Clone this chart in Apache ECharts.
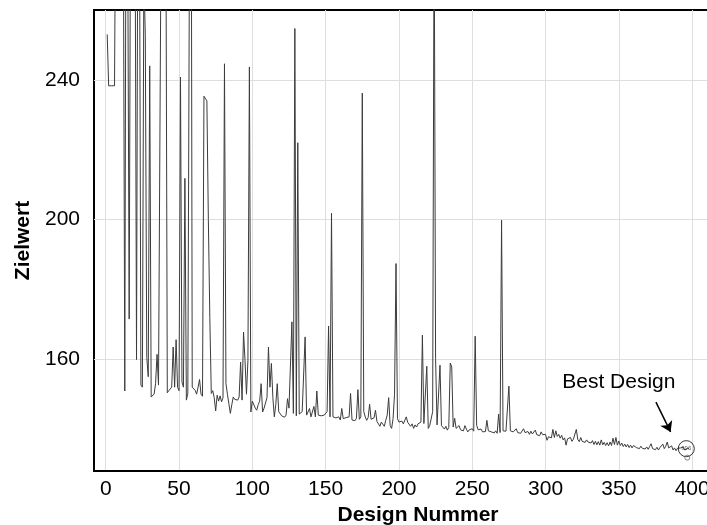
<!DOCTYPE html>
<html>
<head>
<meta charset="utf-8">
<script src="https://cdn.jsdelivr.net/npm/echarts@6/dist/echarts.min.js"></script>
<style>
html,body{margin:0;padding:0;background:#fff;}
#chart{width:707px;height:525px;}
</style>
</head>
<body>
<div id="chart"></div>
<script>
// Design numbers start at 1; values (Zielwert) per design
const designStart = 1;
const values001_050 = [253,238.3,238.3,238.3,238.3,238.3,310,320,300,340,310,290,150.9,330,280,171.5,300,350,320,290,159.9,310,290,152.6,152,270,252.8,160.5,155,244,149.2,149,150,153,161.4,152.6,152.6,300,330,310,290,150.4,151,150.6,152,163.5,152,165.6,152,151];
const values051_100 = [240.8,153.5,152,211.8,148.3,150.2,150.2,380,152,151.5,151.1,150,152,154.2,150,149.4,235.3,235.3,234,200,172,150.2,151,149,145.2,149.7,148,149.5,147.8,149,244.6,153,150,149.5,144.5,147,149.2,148.5,149,148.3,149.2,159.2,148.3,167.8,159.7,150,159.7,243.7,144.9,148];
const values101_150 = [148.3,146,145.4,147,148,153,144.9,146,146.3,149,163.5,152,158.8,149,143.5,147,153,145,144.5,143.8,144.2,143.4,144,148.7,146,145.6,170.7,144.5,254.7,143.8,222,144.3,144,145,144.5,166.4,144,143.5,145.9,143.5,144,146.5,143.5,150.9,144,144.3,143.8,144.2,144,143.6];
const values151_200 = [145,169.5,143.5,201.8,143.5,144,143.2,142.8,143.5,142.6,145.9,143,142.5,143.3,142.8,143.5,150.2,142.6,143,142.4,143.1,151.3,142.8,143.5,236.2,145,143.5,142.5,143.3,147.1,142.8,142.5,143.2,145.4,142.2,141.8,140.8,142,141.5,140.8,142.5,144,149,141,140.2,143,150,187.4,143,142];
const values201_250 = [141.8,142.3,141.5,142,143.5,141.9,141.7,140.8,141.5,140.2,141.2,140.6,141.5,141,142,166.9,141.6,142,158,140.2,141,141.5,145,290,160.2,141.2,141,158.3,141,140.6,140,140.8,139.7,140.5,158.9,157.8,140.6,143.1,140.2,140.6,141,139.8,140.3,139.5,141,140,139.2,139.8,139.5,140.1];
const values251_300 = [139.4,166.6,141.1,139.8,139.4,140,139.2,139.6,139.3,142.5,139.5,139.8,139.2,139.7,138.9,139.5,138.8,144.3,139,199.8,139.5,139,139.4,139,152.3,139.5,139.7,139.2,139.5,140.1,139,139.4,138.8,139.2,140.1,139,138.7,139.3,138.5,139.4,138.6,138.2,139.7,138.4,138.9,138.1,139.2,138.4,138,138.5];
const values301_350 = [136.8,137.8,138.3,137.5,139.9,137.6,139.5,137.9,138.5,137.4,138.2,136.9,137.5,135.4,137.2,136.8,137.6,136.5,137.1,136.6,139.9,137,136.4,137.6,136.5,137,136.2,136.9,136.3,136.8,136,136.7,135.6,136.5,135.5,136.4,135.4,136.9,135.5,136.2,135.3,136.1,135.2,136.3,135.3,137.4,135.6,137.6,135.4,136.6];
const values351_398 = [135.3,136,135,135.7,134.9,135.6,134.7,135.4,134.6,135.3,135.8,134.7,135.2,134.4,135.1,134.5,135,134.3,134.9,134.2,135,135.8,134.4,134.9,134.1,134.8,134,134.7,134.2,135.7,134.4,135.1,136.3,134.6,134.1,135.2,134,134.6,133.8,134.5,134,134.6,134.1,134.8,134,134.4,134.5,134.3];

const xTickLabels = [0,50,100,150,200,250,300,350,400];
const yTickLabels = [160,200,240];

const bestDesign = 396;
const bestLabel = 'Best Design';
const bestText = '396';

const values = [].concat(values001_050, values051_100, values101_150, values151_200,
                         values201_250, values251_300, values301_350, values351_398);
const seriesData = values.map((v, i) => [designStart + i, v]);
const bestValue = values[bestDesign - designStart];

const FONT = "'Liberation Sans', Arial, Helvetica, sans-serif";
const GRID = '#dedede';
const NONE = 'rgba(0,0,0,0)';

// x ticks every 2 from -8: gridlines only on multiples of 50 (index 4 of each 25)
const xLineColors = Array.from({length: 25}, (_, k) => k === 4 ? GRID : NONE);
// y ticks every 4 from 128: gridlines only on multiples of 40 (index 8 of each 10)
const yLineColors = Array.from({length: 10}, (_, k) => k === 8 ? GRID : NONE);

const chart = echarts.init(document.getElementById('chart'), null, {renderer: 'canvas'});
chart.setOption({
  animation: false,
  backgroundColor: '#fff',
  textStyle: {fontFamily: FONT},
  grid: {left: 94, top: 10, width: 648, bottom: 54, outerBoundsMode: 'none', containLabel: false,
         show: true, borderColor: '#000', borderWidth: 2, backgroundColor: 'transparent'},
  xAxis: {
    type: 'value', min: -8, max: 434, interval: 2,
    name: 'Design Nummer', nameLocation: 'middle', nameGap: 30,
    nameTextStyle: {fontFamily: FONT, fontSize: 21, fontWeight: 'bold', color: '#000'},
    axisLine: {show: true, onZero: false, lineStyle: {color: '#000', width: 2}},
    axisTick: {show: false},
    axisLabel: {
      fontFamily: FONT, fontSize: 21, color: '#000', margin: 8,
      formatter: v => xTickLabels.indexOf(v) >= 0 ? String(v) : ''
    },
    splitLine: {show: true, lineStyle: {color: xLineColors, width: 1}}
  },
  yAxis: {
    type: 'value', min: 128, max: 260, interval: 4,
    name: 'Zielwert', nameLocation: 'middle', nameGap: 57,
    nameTextStyle: {fontFamily: FONT, fontSize: 21, fontWeight: 'bold', color: '#000'},
    axisLine: {show: false},
    axisTick: {show: false},
    axisLabel: {
      fontFamily: FONT, fontSize: 21, color: '#000', margin: 14,
      formatter: v => yTickLabels.indexOf(v) >= 0 ? String(v) : ''
    },
    splitLine: {show: true, lineStyle: {color: yLineColors, width: 1}}
  },
  series: [
    {
      type: 'line', data: seriesData, symbol: 'none', showSymbol: false,
      lineStyle: {color: '#3c3c3c', width: 1}, clip: true, z: 3,
      markLine: {
        silent: true, animation: false,
        symbol: ['none', 'arrow'], symbolSize: 10,
        lineStyle: {color: '#000', width: 1.5, type: 'solid'},
        label: {show: false},
        data: [[{coord: [375.3, 147.7]}, {coord: [385.3, 139.2]}]]
      },
      markPoint: {
        silent: true, animation: false,
        data: [{coord: [350, 153.4], symbol: 'circle', symbolSize: 0,
          label: {show: true, position: 'inside', formatter: bestLabel, fontFamily: FONT, fontSize: 21, color: '#000'}}]
      }
    },
    {
      type: 'scatter', data: [[bestDesign, bestValue]], symbol: 'circle', symbolSize: 16, z: 5,
      itemStyle: {color: 'rgba(255,255,255,0)', borderColor: '#000', borderWidth: 1},
      label: {show: true, position: 'inside', formatter: bestText, fontSize: 6, color: '#333', fontFamily: FONT}
    },
    {
      type: 'scatter', data: [[bestDesign, bestValue]], symbol: 'circle', symbolSize: 5, symbolOffset: [1, 9], z: 5,
      itemStyle: {color: 'rgba(255,255,255,0)', borderColor: '#666', borderWidth: 1}
    }
  ]
});
</script>
</body>
</html>
